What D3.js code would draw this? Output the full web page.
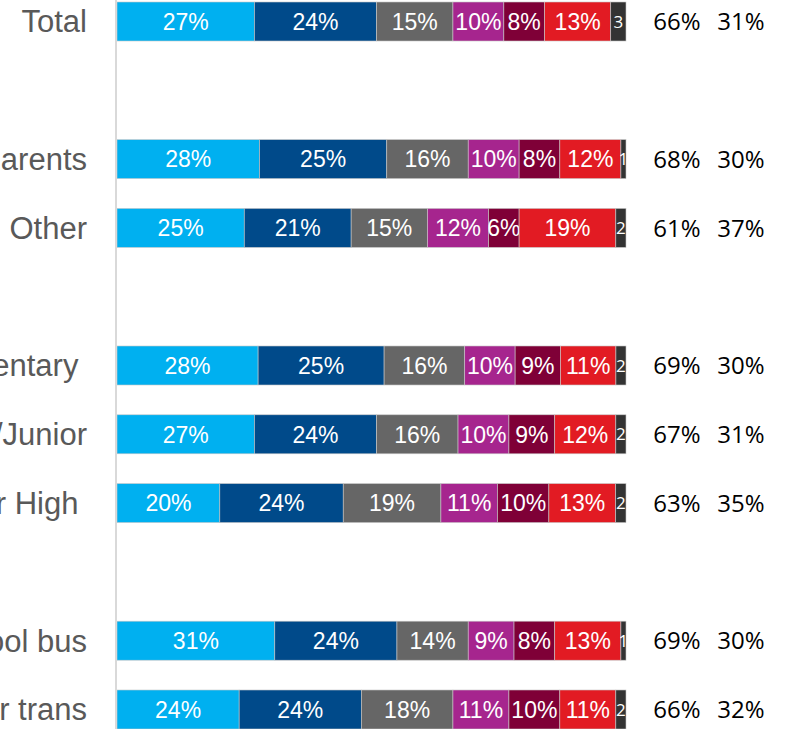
<!DOCTYPE html>
<html lang="en">
<head>
  <meta charset="UTF-8">
  <title>Stacked 100% bars</title>
  <script src="https://cdn.jsdelivr.net/npm/d3@7"></script>
  <style>
    html, body { margin: 0; padding: 0; background: #fff; overflow: hidden; }
    svg { display: block; }
    .cat { white-space: pre; }
  </style>
</head>
<body>
<script>
  // rows (blank strings are the empty gaps between groups)
  const rows = ['Total', '', 'Parents', 'Other', ' ', 'Elementary', 'Middle/Junior', 'Senior High', '  ', 'School bus', 'Other trans'];
  const barRows = ['Total', 'Parents', 'Other', 'Elementary', 'Middle/Junior', 'Senior High', 'School bus', 'Other trans'];
  // label text as printed (two of them carry a trailing space)
  const rowLabels = ['Total', 'Parents', 'Other', 'Elementary\u00a0', 'Middle/Junior', 'Senior High\u00a0', 'School bus', 'Other trans'];

  // shares per answer category
  const keys = ['r1', 'r2', 'r3', 'r4', 'r5', 'r6', 'r7'];
  const r1 = [27, 28, 25, 28, 27, 20, 31, 24];
  const r2 = [24, 25, 21, 25, 24, 24, 24, 24];
  const r3 = [15, 16, 15, 16, 16, 19, 14, 18];
  const r4 = [10, 10, 12, 10, 10, 11, 9, 11];
  const r5 = [8, 8, 6, 9, 9, 10, 8, 10];
  const r6 = [13, 12, 19, 11, 12, 13, 13, 11];
  const r7 = [3, 1, 2, 2, 2, 2, 1, 2];

  // the two totals printed to the right
  const netA = ['66%', '68%', '61%', '69%', '67%', '63%', '69%', '66%'];
  const netB = ['31%', '30%', '37%', '30%', '31%', '35%', '30%', '32%'];

  const colors = ['#00b0f0', '#004a8a', '#666666', '#a6258e', '#7f0037', '#e21b23', '#333333'];

  const data = barRows.map((name, i) => ({
    name, r1: r1[i], r2: r2[i], r3: r3[i], r4: r4[i], r5: r5[i], r6: r6[i], r7: r7[i]
  }));

  const W = 785, H = 729;
  const svg = d3.select('body').append('svg')
    .attr('width', W)
    .attr('height', H);

  const x = d3.scaleLinear().domain([0, 1]).range([117, 626]);
  const y = d3.scaleBand().domain(rows).range([2, 729]).paddingInner(0.433).paddingOuter(0);
  const color = d3.scaleOrdinal().domain(keys).range(colors);

  const series = d3.stack().keys(keys).offset(d3.stackOffsetExpand)(data);

  const defs = svg.append('defs');

  const layer = svg.selectAll('.layer')
    .data(series)
    .enter().append('g')
    .attr('class', 'layer');

  layer.selectAll('rect')
    .data(s => s.map(d => ({ d, key: s.key })))
    .enter().append('rect')
    .attr('x', p => x(p.d[0]))
    .attr('y', p => y(p.d.data.name))
    .attr('width', p => x(p.d[1]) - x(p.d[0]))
    .attr('height', y.bandwidth())
    .attr('fill', p => color(p.key))
    .attr('stroke', '#c8c8c8')
    .attr('stroke-width', 0.6);

  // labels for the wide segments
  layer.filter(s => s.key !== 'r7').selectAll('text')
    .data(s => s.map(d => ({ d, key: s.key })))
    .enter().append('text')
    .attr('x', p => (x(p.d[0]) + x(p.d[1])) / 2)
    .attr('y', p => y(p.d.data.name) + y.bandwidth() / 2)
    .attr('dy', '0.36em')
    .attr('text-anchor', 'middle')
    .attr('fill', '#fff')
    .style('font-family', '"Liberation Sans", Arial, sans-serif')
    .style('font-size', '23px')
    .text(p => p.d.data[p.key] + '%');

  // the thin last segment: only the number fits, clipped to the segment
  const last = series[series.length - 1];
  last.forEach((d, i) => {
    defs.append('clipPath').attr('id', 'clip' + i)
      .append('rect')
      .attr('x', x(d[0]) - 1)
      .attr('y', y(d.data.name))
      .attr('width', x(d[1]) - x(d[0]) + 1)
      .attr('height', y.bandwidth());
    svg.append('text')
      .attr('clip-path', 'url(#clip' + i + ')')
      .attr('x', (x(d[0]) + x(d[1])) / 2)
      .attr('y', y(d.data.name) + y.bandwidth() / 2)
      .attr('dy', '0.36em')
      .attr('text-anchor', 'middle')
      .attr('fill', '#fff')
      .style('font-family', '"Open Sans", sans-serif')
      .style('font-size', '17px')
      .text(d.data.r7);
  });

  // category axis line
  svg.append('line')
    .attr('x1', 116).attr('x2', 116)
    .attr('y1', 0).attr('y2', H)
    .attr('stroke', '#d9d9d9')
    .attr('stroke-width', 2);

  // category labels (cut off at the left edge like the source)
  svg.selectAll('.cat')
    .data(barRows)
    .enter().append('text')
    .attr('class', 'cat')
    .attr('x', 87)
    .attr('y', d => y(d) + y.bandwidth() / 2)
    .attr('dy', '0.35em')
    .attr('text-anchor', 'end')
    .attr('fill', '#595959')
    .style('font-family', '"Liberation Sans", Arial, sans-serif')
    .style('font-size', '31px')
    .text((d, i) => rowLabels[i]);

  // net totals on the right
  const net = svg.append('g')
    .style('font-family', '"Open Sans", sans-serif')
    .style('font-size', '24px')
    .attr('fill', '#000');

  net.selectAll('.netA')
    .data(barRows)
    .enter().append('text')
    .attr('x', 677)
    .attr('y', d => y(d) + y.bandwidth() / 2)
    .attr('dy', '0.36em')
    .attr('text-anchor', 'middle')
    .text((d, i) => netA[i]);

  net.selectAll('.netB')
    .data(barRows)
    .enter().append('text')
    .attr('x', 741)
    .attr('y', d => y(d) + y.bandwidth() / 2)
    .attr('dy', '0.36em')
    .attr('text-anchor', 'middle')
    .text((d, i) => netB[i]);
</script>
</body>
</html>
